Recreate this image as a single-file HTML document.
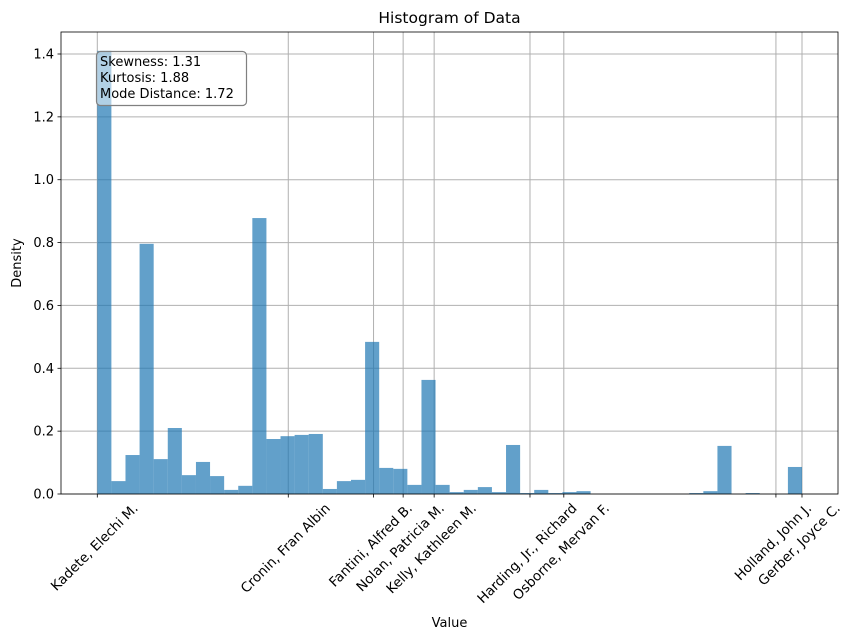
<!DOCTYPE html>
<html><head><meta charset="utf-8"><style>
body{margin:0;background:#fff;}
svg{display:block;font-family:"DejaVu Sans","Liberation Sans",sans-serif;}
</style></head><body>
<svg id="chart" width="855" height="641" viewBox="0 0 855 641" xmlns="http://www.w3.org/2000/svg">
<g id="grid"></g>
<g id="bars"></g>
<g id="axes"></g>
</svg>
<script>
const densities=[1.41,0.041,0.124,0.796,0.111,0.21,0.06,0.102,0.057,0.013,0.026,0.878,0.175,0.184,0.188,0.191,0.016,0.041,0.045,0.484,0.083,0.080,0.029,0.363,0.029,0.006,0.013,0.022,0.006,0.156,0.003,0.013,0.003,0.006,0.009,0,0,0,0,0,0,0,0.003,0.009,0.153,0,0.003,0,0,0.086];
const xTickLabels=["Kadete, Elechi M.","Cronin, Fran Albin","Fantini, Alfred B.","Nolan, Patricia M.","Kelly, Kathleen M.","Harding, Jr., Richard","Osborne, Mervan F.","Holland, John J.","Gerber, Joyce C."];
const xTickValues=[0,13.55,19.6,21.7,23.9,30.7,33.1,48.15,50];
const yTicks=[0,0.2,0.4,0.6,0.8,1.0,1.2,1.4];
const binEdgesStart=0, binEdgesEnd=50;

const L=61,R=838,T=32,B=494;
const X0=97.3,X1=802;
const xs=v=>X0+(v-binEdgesStart)/(binEdgesEnd-binEdgesStart)*(X1-X0);
const ys=v=>B-v/1.4*(B-54);
const NS="http://www.w3.org/2000/svg";
function mk(tag,attrs,parent,text){const e=document.createElementNS(NS,tag);for(const k in attrs)e.setAttribute(k,attrs[k]);if(text!==undefined)e.textContent=text;parent.appendChild(e);return e;}
const grid=document.getElementById('grid'),bars=document.getElementById('bars'),axes=document.getElementById('axes');

yTicks.forEach(v=>{
  const l=mk('line',{x1:L,x2:R,y1:ys(v),y2:ys(v),stroke:'#b0b0b0','stroke-width':1},grid);
  
  
});
xTickValues.forEach(v=>{
  const l=mk('line',{x1:xs(v),x2:xs(v),y1:T,y2:B,stroke:'#b0b0b0','stroke-width':1},grid);
  
  
});
const n=densities.length,bw=(X1-X0)/n;
densities.forEach((d,i)=>{
  if(d<=0)return;
  const r=mk('rect',{x:X0+i*bw,y:ys(d),width:bw,height:B-ys(d),fill:'#1f77b4','fill-opacity':0.7},bars);
  
  
});
const frame=mk('rect',{x:L,y:T,width:R-L,height:B-T,fill:'none',stroke:'#000','stroke-width':0.8},axes);


yTicks.forEach(v=>{
  mk('line',{x1:L-3.5,x2:L,y1:ys(v),y2:ys(v),stroke:'#000','stroke-width':0.8},axes);
  const t=mk('text',{x:L-7,y:ys(v)+4.5,'text-anchor':'end','font-size':13},axes,v.toFixed(1));
  
  
});
xTickValues.forEach((v,i)=>{
  const x=xs(v);
  mk('line',{x1:x,x2:x,y1:B,y2:B+3.5,stroke:'#000','stroke-width':0.8},axes);
  const cx=x-3;
  const t=mk('text',{x:cx,y:0,'text-anchor':'middle','font-size':13.5},axes,xTickLabels[i]);
  
  
  const w=t.getComputedTextLength(),h=13.5;
  const bb=(w+h)*0.7071;
  const cy=B+7+bb/2;
  t.setAttribute('y',cy+4.7);
  t.setAttribute('transform',`rotate(-45 ${cx} ${cy})`);
});
const title=mk('text',{x:(L+R)/2,y:23,'text-anchor':'middle','font-size':15.5},axes,'Histogram of Data');


const xl=mk('text',{x:(L+R)/2,y:627,'text-anchor':'middle','font-size':13},axes,'Value');


const yl=mk('text',{x:21,y:263,'text-anchor':'middle','font-size':13,transform:'rotate(-90 21 263)'},axes,'Density');


const box=mk('rect',{x:96.5,y:51.5,width:150,height:54,rx:4,fill:'#fff','fill-opacity':0.5,stroke:'#808080','stroke-width':1.2},axes);


['Skewness: 1.31','Kurtosis: 1.88','Mode Distance: 1.72'].forEach((s,i)=>{
  const t=mk('text',{x:100,y:66+i*16,'font-size':13},axes,s);
  
  
});
</script>
</body></html>
